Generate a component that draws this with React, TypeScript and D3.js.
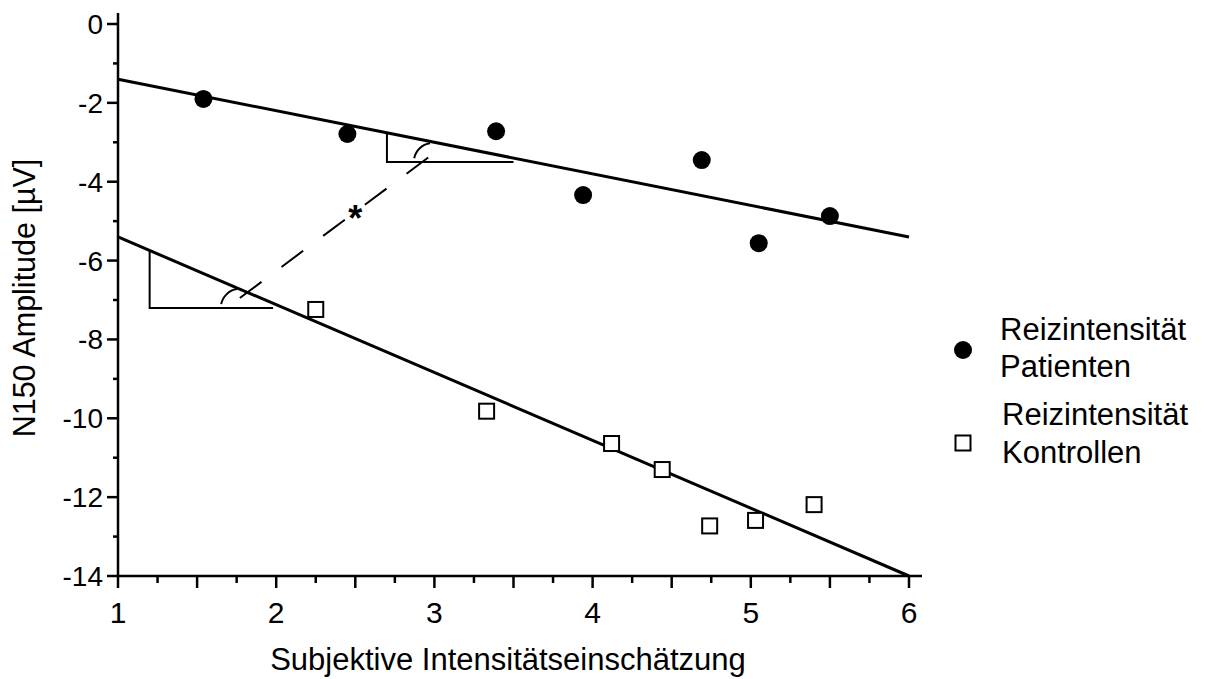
import React from "react";
import * as d3 from "d3";

// Reizintensität Patienten (filled dots)
const patientX = [1.54, 2.45, 3.39, 3.94, 4.69, 5.05, 5.5];
const patientY = [-1.9, -2.79, -2.72, -4.34, -3.45, -5.56, -4.87];
// Reizintensität Kontrollen (open squares)
const controlX = [2.25, 3.33, 4.12, 4.44, 4.74, 5.03, 5.4];
const controlY = [-7.24, -9.82, -10.64, -11.3, -12.73, -12.59, -12.19];

// regression lines, endpoints at x = 1 and x = 6
const patientFit = [[1, -1.4], [6, -5.4]];
const controlFit = [[1, -5.4], [6, -14]];

// slope annotation (triangles, angle arcs, dashed connector, asterisk)
const upperTriangle = [[2.7, -2.76], [2.7, -3.5], [3.5, -3.5]];
const lowerTriangle = [[1.2, -5.74], [1.2, -7.2], [1.98, -7.2]];
const arcCenters = [[1.77, -7.2], [2.99, -3.5]];
const connector = [[1.77, -6.95], [2.98, -3.33]];
const starPos = [2.5, -4.75];

const xTicks = [1, 2, 3, 4, 5, 6];
const yTicks = [0, -2, -4, -6, -8, -10, -12, -14];

const FONT = "'Liberation Sans', Arial, sans-serif";

export default function App() {
  const x = d3.scaleLinear().domain([1, 6]).range([118, 909]);
  const y = d3.scaleLinear().domain([0, -14]).range([24, 576]);
  const line = d3.line<number[]>().x(d => x(d[0])).y(d => y(d[1]));

  const xMinor = d3.range(1, 6.01, 0.25);
  const yMinor = d3.range(0, -14.01, -1);

  const arcPath = (c: number[]) => {
    const p = d3.path();
    const r = 19;
    const a0 = Math.PI + 0.2;
    const a1 = Math.PI * 1.5 - 0.15;
    p.moveTo(x(c[0]) + r * Math.cos(a0), y(c[1]) + r * Math.sin(a0));
    p.arc(x(c[0]), y(c[1]), r, a0, a1);
    return p.toString();
  };

  const sq = 15;

  return (
    <svg
      width={1209}
      height={679}
      style={{ position: "absolute", left: 0, top: 0, background: "#fff" }}
      fontFamily={FONT}
    >
      {/* axes */}
      <line x1={x(1)} x2={x(1)} y1={13} y2={y(-14)} stroke="#000" strokeWidth={2.5} />
      <line x1={x(1) - 1} x2={922} y1={y(-14)} y2={y(-14)} stroke="#000" strokeWidth={2.5} />
      {xMinor.map((t, i) => {
        const major = Math.abs(t * 2 - Math.round(t * 2)) < 1e-6;
        return (
          <line key={"xt" + i} x1={x(t)} x2={x(t)} y1={y(-14)} y2={y(-14) + (major ? 12 : 7)}
            stroke="#000" strokeWidth={2.5} />
        );
      })}
      {xTicks.map(t => (
        <text key={"xl" + t} x={x(t)} y={623} textAnchor="middle" fontSize={30}>{t}</text>
      ))}
      {yMinor.map((t, i) => {
        const major = Math.round(t) % 2 === 0;
        return (
          <line key={"yt" + i} x1={x(1) - (major ? 11 : 5)} x2={x(1)} y1={y(t)} y2={y(t)}
            stroke="#000" strokeWidth={2.5} />
        );
      })}
      {yTicks.map(t => (
        <text key={"yl" + t} x={103} y={y(t) + 10} textAnchor="end" fontSize={28}>{t}</text>
      ))}
      <text x={508} y={670} textAnchor="middle" fontSize={31}>Subjektive Intensitätseinschätzung</text>
      <text transform="translate(35,298) rotate(-90)" textAnchor="middle" fontSize={30.5}>N150 Amplitude [µV]</text>

      {/* regression lines */}
      <path d={line(patientFit) || ""} fill="none" stroke="#000" strokeWidth={3} />
      <path d={line(controlFit) || ""} fill="none" stroke="#000" strokeWidth={3} />

      {/* slope annotation */}
      <path d={line(upperTriangle) || ""} fill="none" stroke="#000" strokeWidth={2} />
      <path d={line(lowerTriangle) || ""} fill="none" stroke="#000" strokeWidth={2} />
      {arcCenters.map((c, i) => (
        <path key={"arc" + i} d={arcPath(c)} fill="none" stroke="#000" strokeWidth={2} />
      ))}
      <path d={line(connector) || ""} fill="none" stroke="#000" strokeWidth={2} strokeDasharray="27 25" />
      <text x={x(starPos[0])} y={y(starPos[1]) + 20} textAnchor="middle" fontSize={36} fontWeight="bold">*</text>

      {/* data points */}
      {patientX.map((v, i) => (
        <circle key={"p" + i} cx={x(v)} cy={y(patientY[i])} r={9} fill="#000" />
      ))}
      {controlX.map((v, i) => (
        <rect key={"c" + i} x={x(v) - sq / 2} y={y(controlY[i]) - sq / 2} width={sq} height={sq}
          fill="#fff" stroke="#000" strokeWidth={2} />
      ))}

      {/* legend */}
      <circle cx={963} cy={350} r={9} fill="#000" />
      <text x={1000} y={340} fontSize={31}>Reizintensität</text>
      <text x={1000} y={377} fontSize={31}>Patienten</text>
      <rect x={963 - sq / 2} y={443 - sq / 2} width={sq} height={sq} fill="#fff" stroke="#000" strokeWidth={2} />
      <text x={1002} y={425} fontSize={31}>Reizintensität</text>
      <text x={1002} y={463} fontSize={31}>Kontrollen</text>
    </svg>
  );
}
